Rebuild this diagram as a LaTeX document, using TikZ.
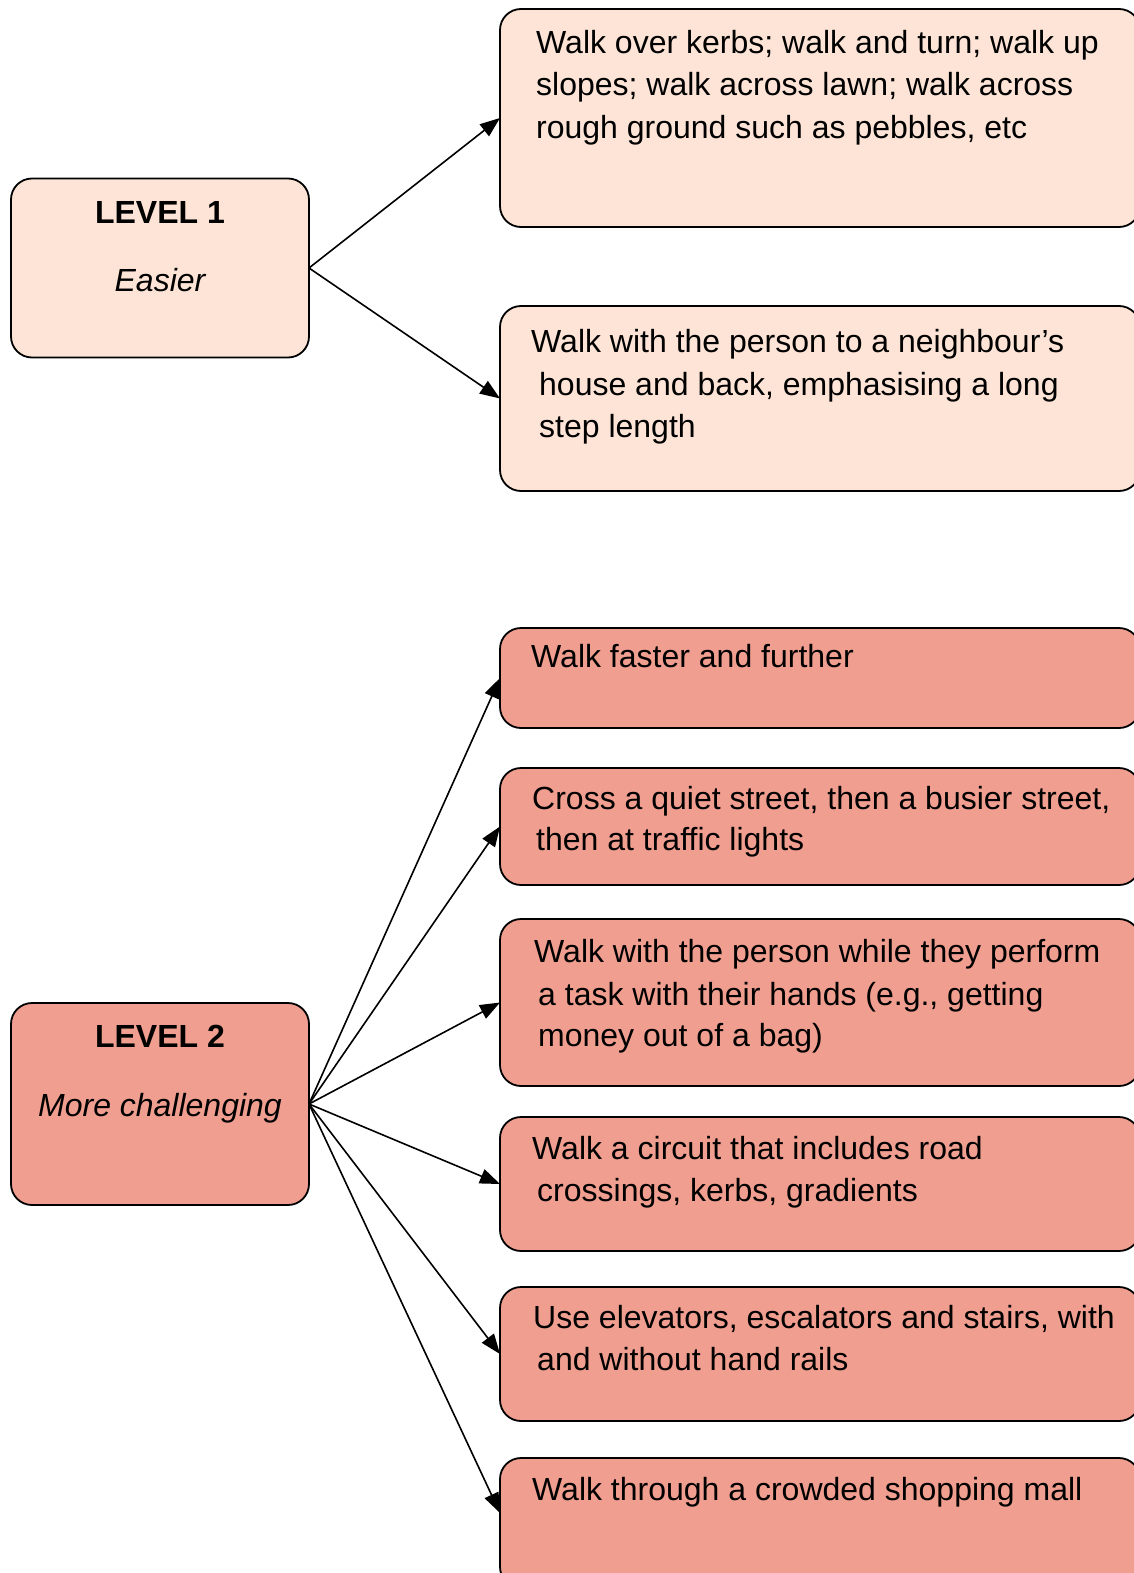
\documentclass[tikz,border=0pt]{standalone}
\usepackage{fontspec}
\setmainfont{Liberation Sans}
\usetikzlibrary{arrows.meta}
\definecolor{peach}{RGB}{253,228,214}
\definecolor{salmon}{RGB}{240,158,143}
\tikzset{
  box/.style={draw=black, line width=1.8pt, rounded corners=21pt, inner sep=0pt, outer sep=0pt},
  easybox/.style={box, fill=peach},
  hardbox/.style={box, fill=salmon},
  txt/.style={anchor=base west, inner sep=0pt, font=\fontsize{32}{42}\selectfont},
  ctxt/.style={anchor=base, inner sep=0pt, font=\fontsize{32}{42}\selectfont},
  link/.style={draw=black, line width=1.6pt, -{Triangle[length=20pt,width=15pt]}}
}
\begin{document}
\begin{tikzpicture}[x=1pt,y=-1pt]
\useasboundingbox (0,0) rectangle (1133,1573);

% level boxes on the left
\node[easybox, minimum width=298pt, minimum height=179pt] (l1) at (160,268) {};
\node[hardbox, minimum width=298pt, minimum height=202pt] (l2) at (160,1104) {};
\node[ctxt, font=\fontsize{32}{42}\selectfont\bfseries] (l1a) at (160,223) {LEVEL 1};
\node[ctxt, font=\fontsize{32}{42}\selectfont\itshape] (l1b) at (160,291) {Easier};
\node[ctxt, font=\fontsize{32}{42}\selectfont\bfseries] (l2a) at (160,1047) {LEVEL 2};
\node[ctxt, font=\fontsize{32}{42}\selectfont\itshape] (l2b) at (160,1116) {More challenging};

% activity boxes on the right (they run past the right edge)
\node[easybox, minimum width=640pt, minimum height=218pt] (r1) at (820,118) {};
\node[easybox, minimum width=640pt, minimum height=185pt] (r2) at (820,398.5) {};
\node[hardbox, minimum width=640pt, minimum height=100pt] (r3) at (820,678) {};
\node[hardbox, minimum width=640pt, minimum height=117pt] (r4) at (820,826.5) {};
\node[hardbox, minimum width=640pt, minimum height=167pt] (r5) at (820,1002.5) {};
\node[hardbox, minimum width=640pt, minimum height=134pt] (r6) at (820,1184) {};
\node[hardbox, minimum width=640pt, minimum height=134pt] (r7) at (820,1354) {};
\node[hardbox, minimum width=640pt, minimum height=130pt] (r8) at (820,1523) {};

% activity texts
\node[txt] (t1a) at (536,54) {Walk over kerbs; walk and turn; walk up};
\node[txt] (t1b) at (536,96) {slopes; walk across lawn; walk across};
\node[txt] (t1c) at (536,139) {rough ground such as pebbles, etc};

\node[txt] (t2a) at (531,352) {Walk with the person to a neighbour’s};
\node[txt] (t2b) at (539,395) {house and back, emphasising a long};
\node[txt] (t2c) at (539,437) {step length};

\node[txt] (t3a) at (531,667) {Walk faster and further};

\node[txt] (t4a) at (532,809) {Cross a quiet street, then a busier street,};
\node[txt] (t4b) at (536,850) {then at traffic lights};

\node[txt] (t5a) at (534,962) {Walk with the person while they perform};
\node[txt] (t5b) at (538,1005) {a task with their hands (e.g., getting};
\node[txt] (t5c) at (538,1046) {money out of a bag)};

\node[txt] (t6a) at (532,1159) {Walk a circuit that includes road};
\node[txt] (t6b) at (537,1201) {crossings, kerbs, gradients};

\node[txt] (t7a) at (533,1328) {Use elevators, escalators and stairs, with};
\node[txt] (t7b) at (537,1370) {and without hand rails};

\node[txt] (t8a) at (532,1500) {Walk through a crowded shopping mall};

% connectors
\draw[link] (l1.east) -- (r1.west);
\draw[link] (l1.east) -- (r2.west);
\draw[link] (l2.east) -- (r3.west);
\draw[link] (l2.east) -- (r4.west);
\draw[link] (l2.east) -- (r5.west);
\draw[link] (l2.east) -- (r6.west);
\draw[link] (l2.east) -- (r7.west);
\draw[link] (l2.east) -- ([yshift=10pt]r8.west);
\end{tikzpicture}
\end{document}
